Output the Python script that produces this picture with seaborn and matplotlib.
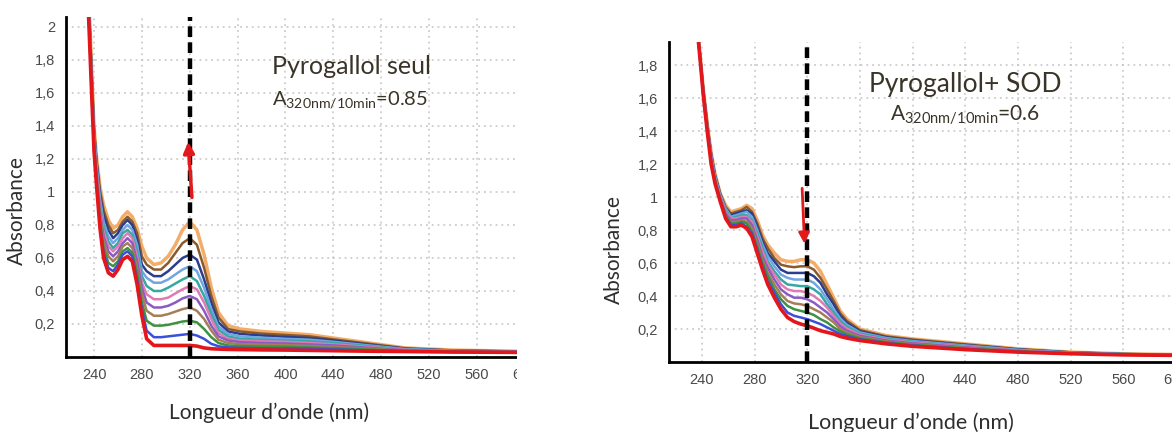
import matplotlib
matplotlib.use("Agg")
import matplotlib.pyplot as plt
from matplotlib.patches import Rectangle
from matplotlib.ticker import MultipleLocator, FuncFormatter
import pandas as pd
import seaborn as sns

# scans, bottom (t0, red) to top (10 min)
scans = ["t0", "t1", "t2", "t3", "t4", "t5", "t6", "t7", "t8", "t9", "t10"]
scan_colors = ["#e3171b", "#3b4fd8", "#3e9140", "#a67d5b", "#8c5ac4", "#e07ab4",
               "#36a8a4", "#6fa6e2", "#2b3d8c", "#8b5a2b", "#f3ad6a"]

# Pyrogallol seul : wavelength (nm) and absorbance per scan
wl_seul = [235, 238, 240, 242, 245, 248, 252, 256, 260, 264, 268, 272, 276, 280,
           284, 290, 296, 302, 308, 314, 320, 326, 332, 338, 344, 352, 362, 380,
           400, 420, 440, 470, 500, 540, 594]
abs_seul = [
    [2.15, 2.16, 2.18, 2.19, 2.21, 2.22, 2.24, 2.25, 2.27, 2.28, 2.30],
    [1.60, 1.62, 1.63, 1.65, 1.66, 1.68, 1.69, 1.71, 1.72, 1.74, 1.75],
    [1.25, 1.27, 1.28, 1.30, 1.31, 1.33, 1.34, 1.36, 1.37, 1.39, 1.40],
    [1.05, 1.07, 1.08, 1.10, 1.12, 1.14, 1.15, 1.17, 1.19, 1.20, 1.22],
    [0.78, 0.81, 0.83, 0.86, 0.88, 0.91, 0.93, 0.96, 0.98, 1.01, 1.03],
    [0.60, 0.63, 0.66, 0.70, 0.73, 0.76, 0.79, 0.82, 0.86, 0.89, 0.92],
    [0.51, 0.54, 0.57, 0.61, 0.64, 0.67, 0.70, 0.73, 0.77, 0.80, 0.83],
    [0.49, 0.52, 0.55, 0.58, 0.61, 0.64, 0.66, 0.69, 0.72, 0.75, 0.78],
    [0.53, 0.56, 0.58, 0.61, 0.64, 0.67, 0.69, 0.72, 0.75, 0.77, 0.80],
    [0.59, 0.62, 0.64, 0.67, 0.69, 0.72, 0.75, 0.77, 0.80, 0.82, 0.85],
    [0.61, 0.64, 0.66, 0.69, 0.72, 0.75, 0.77, 0.80, 0.83, 0.85, 0.88],
    [0.58, 0.61, 0.63, 0.66, 0.69, 0.72, 0.74, 0.77, 0.80, 0.82, 0.85],
    [0.44, 0.47, 0.51, 0.54, 0.58, 0.61, 0.64, 0.68, 0.71, 0.75, 0.78],
    [0.25, 0.29, 0.33, 0.38, 0.42, 0.45, 0.49, 0.52, 0.56, 0.61, 0.67],
    [0.11, 0.16, 0.22, 0.28, 0.33, 0.38, 0.43, 0.48, 0.52, 0.56, 0.60],
    [0.07, 0.12, 0.19, 0.25, 0.30, 0.35, 0.40, 0.45, 0.49, 0.53, 0.56],
    [0.07, 0.12, 0.19, 0.25, 0.30, 0.35, 0.40, 0.45, 0.49, 0.53, 0.57],
    [0.07, 0.125, 0.195, 0.26, 0.31, 0.36, 0.42, 0.47, 0.52, 0.57, 0.61],
    [0.07, 0.13, 0.205, 0.275, 0.33, 0.385, 0.445, 0.50, 0.56, 0.63, 0.68],
    [0.07, 0.135, 0.215, 0.29, 0.355, 0.41, 0.47, 0.53, 0.60, 0.69, 0.77],
    [0.07, 0.14, 0.22, 0.30, 0.37, 0.43, 0.49, 0.55, 0.62, 0.72, 0.82],
    [0.066, 0.13, 0.21, 0.28, 0.35, 0.41, 0.46, 0.52, 0.59, 0.68, 0.77],
    [0.055, 0.11, 0.17, 0.23, 0.28, 0.33, 0.37, 0.42, 0.47, 0.54, 0.62],
    [0.05, 0.08, 0.12, 0.16, 0.19, 0.23, 0.26, 0.29, 0.33, 0.37, 0.42],
    [0.048, 0.065, 0.085, 0.105, 0.125, 0.145, 0.165, 0.185, 0.21, 0.24, 0.27],
    [0.046, 0.058, 0.07, 0.085, 0.10, 0.11, 0.125, 0.14, 0.155, 0.17, 0.19],
    [0.045, 0.055, 0.066, 0.078, 0.09, 0.10, 0.11, 0.125, 0.14, 0.155, 0.17],
    [0.043, 0.053, 0.064, 0.075, 0.085, 0.095, 0.105, 0.117, 0.13, 0.142, 0.155],
    [0.042, 0.052, 0.062, 0.072, 0.082, 0.092, 0.10, 0.11, 0.122, 0.134, 0.145],
    [0.04, 0.05, 0.058, 0.067, 0.076, 0.085, 0.095, 0.105, 0.115, 0.125, 0.135],
    [0.038, 0.046, 0.054, 0.062, 0.07, 0.077, 0.085, 0.092, 0.10, 0.107, 0.115],
    [0.035, 0.04, 0.045, 0.05, 0.055, 0.06, 0.065, 0.07, 0.075, 0.08, 0.085],
    [0.033, 0.035, 0.037, 0.039, 0.041, 0.044, 0.046, 0.048, 0.05, 0.053, 0.055],
    [0.03, 0.031, 0.032, 0.033, 0.034, 0.036, 0.037, 0.038, 0.039, 0.04, 0.042],
    [0.028, 0.029, 0.029, 0.03, 0.031, 0.031, 0.032, 0.033, 0.033, 0.034, 0.035],
]

# Pyrogallol + SOD
wl_sod = [237, 239, 241, 244, 247, 250, 254, 258, 262, 266, 270, 274, 278, 282,
          286, 290, 295, 300, 305, 310, 315, 320, 325, 330, 335, 340, 345, 350,
          360, 380, 400, 440, 480, 520, 560, 603]
abs_sod = [
    [1.97, 1.97, 1.98, 1.98, 1.98, 1.99, 1.99, 1.99, 1.99, 2.00, 2.00],
    [1.80, 1.80, 1.81, 1.81, 1.81, 1.82, 1.82, 1.82, 1.82, 1.83, 1.83],
    [1.62, 1.62, 1.63, 1.63, 1.64, 1.64, 1.64, 1.65, 1.65, 1.66, 1.66],
    [1.40, 1.41, 1.41, 1.42, 1.42, 1.43, 1.43, 1.44, 1.44, 1.45, 1.45],
    [1.20, 1.21, 1.21, 1.22, 1.23, 1.24, 1.24, 1.25, 1.26, 1.26, 1.27],
    [1.08, 1.09, 1.09, 1.10, 1.10, 1.11, 1.12, 1.12, 1.13, 1.13, 1.14],
    [0.97, 0.98, 0.98, 0.99, 0.99, 1.00, 1.00, 1.01, 1.01, 1.02, 1.02],
    [0.87, 0.88, 0.89, 0.89, 0.90, 0.91, 0.92, 0.93, 0.93, 0.94, 0.95],
    [0.82, 0.83, 0.84, 0.85, 0.86, 0.87, 0.87, 0.88, 0.89, 0.90, 0.91],
    [0.82, 0.83, 0.84, 0.85, 0.86, 0.87, 0.88, 0.89, 0.90, 0.91, 0.92],
    [0.83, 0.84, 0.85, 0.86, 0.87, 0.88, 0.89, 0.90, 0.91, 0.92, 0.93],
    [0.81, 0.82, 0.84, 0.85, 0.87, 0.88, 0.89, 0.91, 0.92, 0.94, 0.95],
    [0.76, 0.78, 0.79, 0.81, 0.83, 0.85, 0.86, 0.88, 0.90, 0.91, 0.93],
    [0.66, 0.68, 0.70, 0.72, 0.74, 0.76, 0.78, 0.80, 0.82, 0.84, 0.86],
    [0.56, 0.58, 0.60, 0.62, 0.64, 0.67, 0.69, 0.71, 0.73, 0.75, 0.77],
    [0.47, 0.49, 0.52, 0.54, 0.57, 0.59, 0.61, 0.64, 0.66, 0.69, 0.71],
    [0.39, 0.42, 0.44, 0.47, 0.50, 0.53, 0.55, 0.58, 0.61, 0.63, 0.66],
    [0.32, 0.35, 0.38, 0.41, 0.44, 0.47, 0.50, 0.53, 0.56, 0.59, 0.62],
    [0.27, 0.30, 0.34, 0.37, 0.41, 0.44, 0.47, 0.51, 0.54, 0.58, 0.61],
    [0.245, 0.28, 0.32, 0.355, 0.39, 0.43, 0.465, 0.50, 0.54, 0.575, 0.61],
    [0.23, 0.27, 0.31, 0.35, 0.39, 0.43, 0.46, 0.50, 0.54, 0.58, 0.62],
    [0.22, 0.26, 0.30, 0.34, 0.38, 0.42, 0.46, 0.50, 0.54, 0.58, 0.62],
    [0.205, 0.245, 0.285, 0.32, 0.36, 0.40, 0.44, 0.48, 0.52, 0.56, 0.60],
    [0.19, 0.23, 0.26, 0.30, 0.33, 0.37, 0.41, 0.44, 0.48, 0.51, 0.55],
    [0.18, 0.21, 0.24, 0.27, 0.30, 0.33, 0.35, 0.38, 0.41, 0.44, 0.47],
    [0.17, 0.19, 0.21, 0.24, 0.26, 0.28, 0.30, 0.32, 0.35, 0.37, 0.39],
    [0.155, 0.17, 0.186, 0.20, 0.217, 0.233, 0.248, 0.264, 0.28, 0.295, 0.31],
    [0.145, 0.157, 0.168, 0.18, 0.19, 0.203, 0.214, 0.226, 0.237, 0.249, 0.26],
    [0.13, 0.137, 0.144, 0.151, 0.158, 0.165, 0.172, 0.179, 0.186, 0.193, 0.20],
    [0.11, 0.115, 0.12, 0.125, 0.13, 0.135, 0.14, 0.145, 0.15, 0.155, 0.16],
    [0.095, 0.10, 0.104, 0.108, 0.113, 0.118, 0.122, 0.127, 0.131, 0.136, 0.14],
    [0.075, 0.079, 0.082, 0.086, 0.089, 0.093, 0.096, 0.10, 0.103, 0.107, 0.11],
    [0.06, 0.062, 0.064, 0.066, 0.068, 0.07, 0.072, 0.074, 0.076, 0.078, 0.08],
    [0.05, 0.051, 0.052, 0.053, 0.054, 0.055, 0.056, 0.057, 0.058, 0.059, 0.06],
    [0.043, 0.044, 0.044, 0.045, 0.046, 0.046, 0.047, 0.048, 0.048, 0.049, 0.05],
    [0.040, 0.040, 0.041, 0.041, 0.042, 0.042, 0.043, 0.043, 0.044, 0.044, 0.045],
]

x_ticks = [240, 280, 320, 360, 400, 440, 480, 520, 560, 600]
y_ticks = [0.2, 0.4, 0.6, 0.8, 1.0, 1.2, 1.4, 1.6, 1.8, 2.0]

sns.set_style("white")
plt.rcParams["font.family"] = ["Lato", "DejaVu Sans"]
plt.rcParams["mathtext.fontset"] = "custom"
plt.rcParams["mathtext.rm"] = "Lato"

TICK_FONT = ["Liberation Sans Narrow", "Liberation Sans", "DejaVu Sans"]
TEXT_COLOR = "#3a3428"


def comma(v, pos):
    return f"{v:g}".replace(".", ",")


def draw_panel(ax, wl, table, xlim, ylim):
    df = pd.DataFrame(table, index=wl, columns=scans)
    long = df.reset_index(names="wl").melt(id_vars="wl", var_name="scan", value_name="A")
    # draw the top scan first so the red t0 scan sits on top
    for i in reversed(range(len(scans))):
        sub = long[long["scan"] == scans[i]]
        lw = 2.6 if i == 0 else (2.5 if i == len(scans) - 1 else 1.8)
        sns.lineplot(data=sub, x="wl", y="A", ax=ax, color=scan_colors[i], lw=lw,
                     estimator=None, legend=False, zorder=3 + (len(scans) - i) * 0.01)
    ax.set_xticks(x_ticks)
    ax.set_yticks(y_ticks)
    # limits after the ticks, otherwise set_yticks widens the view
    ax.set_xlim(*xlim)
    ax.set_ylim(*ylim)
    ax.xaxis.set_minor_locator(MultipleLocator(8))
    ax.yaxis.set_major_formatter(FuncFormatter(comma))
    ax.grid(True, which="major", color="#c4c4c4", lw=1.1, ls=(0, (1.2, 2.6)))
    ax.set_axisbelow(True)
    for side in ["top", "right"]:
        ax.spines[side].set_visible(False)
    for side in ["left", "bottom"]:
        ax.spines[side].set_color("black")
        ax.spines[side].set_linewidth(2.0)
        ax.spines[side].set_zorder(5)
    ax.tick_params(axis="both", which="major", length=3, width=1, color="#888888",
                   labelcolor="#4a4a4a", labelsize=10.5, pad=5)
    ax.tick_params(axis="x", which="minor", length=2, width=0.8, color="#999999")
    for lab in ax.get_xticklabels() + ax.get_yticklabels():
        lab.set_family(TICK_FONT)
    ax.set_xlabel("")
    ax.set_ylabel("")
    # dashed marker at 320 nm
    ax.axvline(320, color="black", lw=3.2, ls=(0, (2.4, 1.2)), zorder=6)


fig = plt.figure(figsize=(11.72, 4.32), dpi=100)
ax1 = fig.add_axes([66 / 1172, 1 - 357 / 432, 460 / 1172, 340 / 432])
ax2 = fig.add_axes([669 / 1172, 1 - 362 / 432, 511 / 1172, 320 / 432])

draw_panel(ax1, wl_seul, abs_seul, (216.6, 601), (0, 2.06))
draw_panel(ax2, wl_sod, abs_sod, (215, 603), (0, 1.94))

# panel texts
ax1.text(0.62, 0.853, "Pyrogallol seul", transform=ax1.transAxes, ha="center",
         va="center", fontsize=18, color=TEXT_COLOR)
ax1.text(0.617, 0.756, r"A$_{\mathregular{320nm/10min}}$=0.85", transform=ax1.transAxes,
         ha="center", va="center", fontsize=14.5, color=TEXT_COLOR)
ax2.text(0.579, 0.866, "Pyrogallol+ SOD", transform=ax2.transAxes, ha="center",
         va="center", fontsize=19, color=TEXT_COLOR)
ax2.text(0.579, 0.772, r"A$_{\mathregular{320nm/10min}}$=0.6", transform=ax2.transAxes,
         ha="center", va="center", fontsize=15, color=TEXT_COLOR)

ax1.text(-0.106, 0.432, "Absorbance", transform=ax1.transAxes, rotation=90,
         ha="center", va="center", fontsize=15, color="#2e2e2e")
ax2.text(-0.107, 0.35, "Absorbance", transform=ax2.transAxes, rotation=90,
         ha="center", va="center", fontsize=15, color="#2e2e2e")
ax1.text(0.45 * 451 / 460, -0.165, "Longueur d\u2019onde (nm)", transform=ax1.transAxes,
         ha="center", va="center", fontsize=15, color="#2e2e2e")
ax2.text(0.48 * 503 / 511, -0.19, "Longueur d\u2019onde (nm)", transform=ax2.transAxes,
         ha="center", va="center", fontsize=15.5, color="#2e2e2e")

# red arrows showing the change at 320 nm
ax1.annotate("", xy=(318.5, 1.32), xytext=(322, 0.95),
             arrowprops=dict(arrowstyle="-|>", color="#e31a1c", lw=2.5, mutation_scale=16),
             zorder=7)
ax2.annotate("", xy=(318, 0.70), xytext=(316, 1.07),
             arrowprops=dict(arrowstyle="-|>", color="#e31a1c", lw=2.0, mutation_scale=16),
             zorder=7)

# the left screenshot is cropped just past 600 nm
fig.add_artist(Rectangle((517 / 1172, 0), 80 / 1172, 1, transform=fig.transFigure,
                         facecolor="white", edgecolor="none", zorder=20))

fig.savefig("out.png", dpi=100)
